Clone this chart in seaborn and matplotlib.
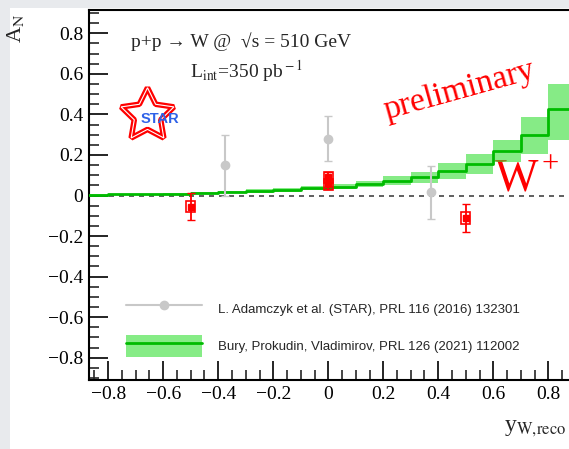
import numpy as np
import matplotlib
matplotlib.use('Agg')
import matplotlib.pyplot as plt
import seaborn as sns
from matplotlib.lines import Line2D
from matplotlib.patches import Patch, Rectangle

# theory curve (Bury, Prokudin, Vladimirov), one value per 0.1-wide bin
bin_edges = [-0.9, -0.8, -0.7, -0.6, -0.5, -0.4, -0.3, -0.2, -0.1, 0.0,
             0.1, 0.2, 0.3, 0.4, 0.5, 0.6, 0.7, 0.8, 0.9]
theory_mid = [0.004, 0.005, 0.006, 0.008, 0.011, 0.017, 0.022, 0.028, 0.036,
              0.043, 0.055, 0.072, 0.09, 0.12, 0.155, 0.22, 0.30, 0.425]
theory_lo = [0.002, 0.003, 0.003, 0.003, 0.005, 0.010, 0.014, 0.019, 0.026,
             0.031, 0.040, 0.050, 0.062, 0.080, 0.105, 0.165, 0.205, 0.275]
theory_hi = [0.006, 0.007, 0.009, 0.013, 0.017, 0.024, 0.030, 0.037, 0.046,
             0.055, 0.070, 0.094, 0.118, 0.160, 0.205, 0.275, 0.385, 0.550]

# published STAR result (grey)
old_x = [-0.375, 0.0, 0.375]
old_y = [0.15, 0.28, 0.015]
old_err = [0.15, 0.11, 0.13]

# preliminary result (red)
new_x = [-0.5, 0.0, 0.0, 0.5]
new_y = [-0.055, 0.09, 0.055, -0.11]
new_err = [0.065, 0.025, 0.025, 0.068]
new_sys = [0.028, 0.028, 0.028, 0.03]

sns.set_theme(style='ticks')
plt.rcParams['font.family'] = ['Liberation Serif', 'DejaVu Serif']
plt.rcParams['mathtext.fontset'] = 'stix'

W, H = 569, 449
fig = plt.figure(figsize=(W / 100, H / 100), dpi=100)
fig.patch.set_facecolor('#e8eaed')
fig.patches.append(Rectangle((10 / W, 0), 1, (H - 8) / H, transform=fig.transFigure,
                             facecolor='white', edgecolor='none', zorder=-5))

ax = fig.add_axes([89 / W, (H - 380) / H, 500.5 / W, 370 / H])
ax.set_facecolor('white')
ax.set_xlim(-0.87, 0.95)
ax.set_ylim(-0.91, 0.915)

# W+ label sits under the band
ax.text(0.605, 0.027, 'W', color='red', fontsize=33, zorder=1)
ax.text(0.775, 0.115, '+', color='red', fontsize=22, zorder=1)
ax.text(0.476, 0.52, 'preliminary', color='red', fontsize=24, rotation=15.5,
        ha='center', va='center', zorder=1)

# band + step line
band_lo = theory_lo + [theory_lo[-1]]
band_hi = theory_hi + [theory_hi[-1]]
ax.fill_between(bin_edges, band_lo, band_hi, step='post', color='#35df35',
                alpha=0.6, lw=0, zorder=2)
step_df = {'x': bin_edges, 'y': theory_mid + [theory_mid[-1]]}
sns.lineplot(data=step_df, x='x', y='y', drawstyle='steps-post', color='#00bb00',
             lw=2, ax=ax, zorder=3)

ax.axhline(0, color='#444444', lw=1.2, dashes=(3, 3), zorder=2.5)

# grey points
ax.errorbar(old_x, old_y, yerr=old_err, fmt='o', color='#c8c8c8', ms=6,
            elinewidth=1.5, capsize=3, zorder=4)

# red points with systematic boxes
for x, y, s in zip(new_x, new_y, new_sys):
    ax.add_patch(Rectangle((x - 0.017, y - s), 0.034, 2 * s, fill=False,
                           edgecolor='red', lw=1.2, zorder=5))
ax.errorbar(new_x, new_y, yerr=new_err, fmt='s', color='red', ms=5,
            elinewidth=1.3, capsize=3, zorder=6)

# STAR logo
ax.plot([0.116], [0.716], transform=ax.transAxes, marker=(5, 1, 0), ms=40,
        mfc='white', mec='red', mew=4, zorder=6, clip_on=False)
ax.plot([0.116], [0.716], transform=ax.transAxes, marker=(5, 1, 0), ms=40,
        mfc='none', mec='white', mew=0.8, zorder=7, clip_on=False)
ax.text(0.142, 0.705, 'STAR', transform=ax.transAxes, color='#2f62e8',
        fontsize=10.5, fontweight='bold', family='Liberation Sans',
        ha='center', va='center', zorder=8)

ax.text(0.083, 0.915, 'p+p \u2192 W @  \u221as = 510 GeV',
        transform=ax.transAxes, fontsize=14, va='center')
ax.text(0.202, 0.835, r'L$_{\rm int}$=350 pb$^{\rm -1}$',
        transform=ax.transAxes, fontsize=14, va='center')

# axes styling, ROOT-like inward ticks
ax.set_xlabel('')
ax.set_ylabel('')
ax.xaxis.set_major_locator(matplotlib.ticker.MultipleLocator(0.2))
ax.xaxis.set_minor_locator(matplotlib.ticker.MultipleLocator(0.05))
ax.yaxis.set_major_locator(matplotlib.ticker.MultipleLocator(0.2))
ax.yaxis.set_minor_locator(matplotlib.ticker.MultipleLocator(0.05))
ax.xaxis.set_major_formatter(matplotlib.ticker.FuncFormatter(
    lambda v, p: '0' if abs(v) < 1e-9 else f'{v:.1f}'.replace('-', '\u2212')))
ax.yaxis.set_major_formatter(matplotlib.ticker.FuncFormatter(
    lambda v, p: '0' if abs(v) < 1e-9 else f'{v:.1f}'.replace('-', '\u2212')))
ax.tick_params(which='major', direction='in', length=14, width=1.2,
               labelsize=14, top=False, right=False, pad=4, colors='black')
ax.tick_params(which='minor', direction='in', length=7, width=1.2,
               top=False, right=False)
for side in ['left', 'bottom', 'top']:
    ax.spines[side].set_visible(True)
    ax.spines[side].set_linewidth(1.5)
    ax.spines[side].set_color('black')
ax.spines['right'].set_visible(False)

fig.text(15 / W, 1 - 28 / H, r'A$_{\rm N}$', rotation=90, fontsize=16,
         ha='center', va='center')
fig.text(504 / W, 1 - 428 / H, r'y$_{\mathrm{W,\!reco}}$', fontsize=17,
         ha='left', va='center')

handles = [Line2D([], [], color='#c8c8c8', marker='o', ms=6, lw=1.5),
           (Patch(facecolor='#86ec86', edgecolor='none'),
            Line2D([], [], color='#00bb00', lw=2))]
labels = ['L. Adamczyk et al. (STAR), PRL 116 (2016) 132301',
          'Bury, Prokudin, Vladimirov, PRL 126 (2021) 112002']
leg = ax.legend(handles, labels, loc='lower left', bbox_to_anchor=(0.05, 0.03),
                frameon=False, prop={'family': 'Liberation Sans', 'size': 9.5},
                handlelength=5.8, handleheight=2.2, handletextpad=1.2,
                labelspacing=1.15)

fig.savefig('out.png', dpi=100, facecolor=fig.get_facecolor())
